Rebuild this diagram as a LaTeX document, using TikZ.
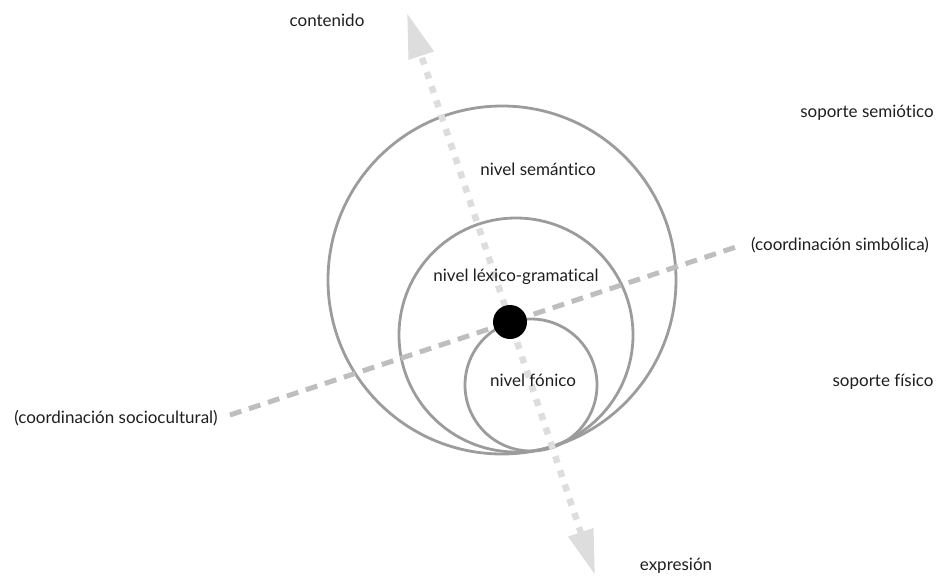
\documentclass[tikz,border=0pt]{standalone}
\usepackage{fontspec}
\setmainfont{Lato}[Ligatures=NoCommon]
\usetikzlibrary{arrows.meta,calc}

\definecolor{ringgray}{HTML}{9C9C9C}
\definecolor{axisgray}{HTML}{BEBEBE}
\definecolor{arrowgray}{HTML}{DDDDDD}
\definecolor{textgray}{HTML}{1E1E1E}

\begin{document}
\begin{tikzpicture}[x=1pt,y=-1pt,
    ring/.style={line width=2.8pt,draw=ringgray},
    txt/.style={font=\fontsize{17}{20}\selectfont,text=textgray,inner sep=0pt},
    planaxis/.style={axisgray,line width=5pt,dash pattern=on 12pt off 8pt},
    stratumaxis/.style={arrowgray,line width=6.5pt,dash pattern=on 7pt off 8pt,
      {Triangle[length=45pt,width=25pt]}-{Triangle[length=45pt,width=25pt]}}]

       \useasboundingbox (0,0) rectangle (936,576);

       \coordinate (O) at (510,322);

       \coordinate (RS) at (502,280);
       \coordinate (RL) at (516,335);
       \coordinate (RF) at (531,385);

       \draw[ring] (RS) circle[radius=174pt];
       \draw[ring] (RL) circle[radius=117pt];
       \draw[ring] (RF) circle[radius=66pt];

       
       \coordinate (CT) at (407,13);
       \coordinate (CB) at (595,575);
       \coordinate (SL) at (230,415);
       \coordinate (SR) at (742,245);

       \draw[planaxis] (SL) -- (SR);
       \draw[stratumaxis] (CB) -- (CT);

       \node[circle,fill=black,minimum size=34pt,inner sep=0pt] (dot) at (O) {};

       
       \node[txt] (contenido) at (327,20) {contenido};
       \node[txt] (expresion) at (676,566) {expresión};
       \node[txt] (semiotico) at (867,113) {soporte semiótico};
       \node[txt] (fisico)    at (883,382) {soporte físico};
       \node[txt] (simbolica) at (840,245) {(coordinación simbólica)};
       \node[txt] (sociocult) at (116,418) {(coordinación sociocultural)};

       \node[txt] (semantico) at (538,169) {nivel semántico};
       \node[txt] (lexgram)   at (516,277) {nivel léxico-gramatical};
       \node[txt] (fonico)    at (533,380) {nivel fónico};
     \end{tikzpicture}
\end{document}
